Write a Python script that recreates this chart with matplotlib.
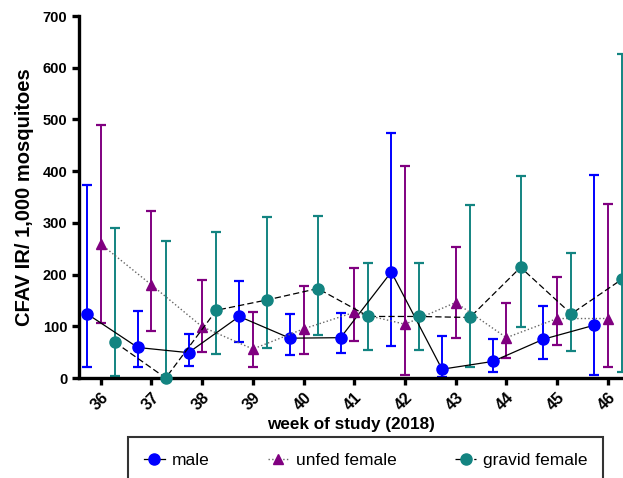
import matplotlib.pyplot as plt
import numpy as np

plt.rcParams['font.family'] = ['Liberation Sans', 'DejaVu Sans']

weeks = [36, 37, 38, 39, 40, 41, 42, 43, 44, 45, 46]
week_labels = ['36', '37', '38', '39', '40', '41', '42', '43', '44', '45', '46']

# CFAV infection rate per 1,000 mosquitoes, with lower / upper CI
male = [124, 59, 49, 119, 77, 78, 205, 17, 32, 75, 102]
male_lo = [22, 22, 23, 70, 45, 48, 61, 1, 11, 36, 6]
male_hi = [373, 129, 86, 188, 123, 125, 473, 81, 75, 140, 393]

unfed = [259, 180, 99, 56, 95, 127, 104, 146, 78, 115, 115]
unfed_lo = [107, 90, 50, 21, 46, 72, 5, 78, 38, 64, 22]
unfed_hi = [489, 323, 190, 127, 178, 212, 409, 254, 146, 196, 336]

gravid = [69, 0, 131, 151, 173, 119, 119, 117, 214, 124, 191]
gravid_lo = [4, 0, 47, 58, 84, 54, 54, 22, 99, 53, 12]
gravid_hi = [291, 265, 283, 312, 313, 223, 223, 335, 391, 241, 626]

c_male = '#0000ff'
c_unfed = '#800080'
c_gravid = '#138481'

fig = plt.figure(figsize=(6.23, 4.78), dpi=100)
ax = fig.add_axes([0.1268, 0.2092, 0.8732, 0.7573])

w = np.array(weeks, dtype=float)
series = [
    (w - 0.27, male, male_lo, male_hi, c_male, 'o', '-', 'black', 0.9, 'male', 8),
    (w, unfed, unfed_lo, unfed_hi, c_unfed, '^', ':', '#666666', 1.0, 'unfed female', 7.5),
    (w + 0.28, gravid, gravid_lo, gravid_hi, c_gravid, 'o', (0, (5, 2.5)), 'black', 0.9, 'gravid female', 8),
]

for x, y, lo, hi, col, mk, ls, lc, lw, lab, ms in series:
    y = np.array(y, dtype=float)
    err = [y - np.array(lo), np.array(hi) - y]
    ax.errorbar(x, y, yerr=err, fmt='none', ecolor=col, elinewidth=1.4,
                capsize=3.3, capthick=1.6, zorder=2, clip_on=True)
    ax.plot(x, y, color=lc, ls=ls, lw=lw, marker=mk, ms=ms, mfc=col, mec=col,
            label=lab, zorder=3, clip_on=False)

ax.set_xlim(35.57, 46.3)
ax.set_ylim(0, 700)
ax.set_yticks(range(0, 701, 100))
ax.set_xticks(weeks)
ax.set_xticklabels(week_labels, rotation=45, ha='right', rotation_mode='anchor')

for s in ['top', 'right']:
    ax.spines[s].set_visible(False)
for s in ['left', 'bottom']:
    ax.spines[s].set_linewidth(2.4)
ax.tick_params(axis='both', width=2.4, length=5)
ax.tick_params(axis='y', labelsize=10.5)
ax.tick_params(axis='x', labelsize=11.5)
for t in ax.get_xticklabels() + ax.get_yticklabels():
    t.set_fontweight('bold')

ax.set_ylabel('CFAV IR/ 1,000 mosquitoes', fontsize=14.5, fontweight='bold', labelpad=6)
ax.set_xlabel('week of study (2018)', fontsize=12.3, fontweight='bold', labelpad=3)

leg = fig.legend(loc='lower left', bbox_to_anchor=(0.192, -0.03, 0.79, 0.1)
                 , mode='expand', ncol=3, fontsize=12.5, frameon=True, fancybox=False,
                 borderpad=0.9, handlelength=1.2, handletextpad=0.4)
leg.get_frame().set_edgecolor('black')
leg.get_frame().set_linewidth(1.5)

fig.savefig('out.png', dpi=100)
plt.close()
